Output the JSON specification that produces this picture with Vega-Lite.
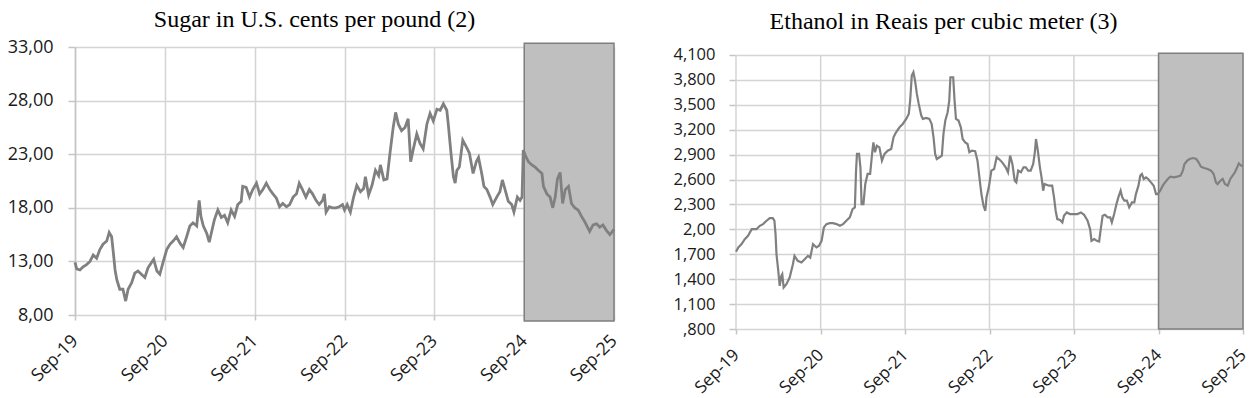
{
  "$schema": "https://vega.github.io/schema/vega-lite/v6.json",
  "background": "white",
  "padding": {"left": 5, "top": 8, "right": 5, "bottom": 5},
  "spacing": 51,
  "datasets": {
    "sugar": [
      {"date": "2019-09-01", "value": 12.9}, {"date": "2019-09-08", "value": 12.3}, {"date": "2019-09-21", "value": 12.2},
      {"date": "2019-10-04", "value": 12.5}, {"date": "2019-10-18", "value": 12.7}, {"date": "2019-11-01", "value": 13.0},
      {"date": "2019-11-14", "value": 13.6}, {"date": "2019-11-28", "value": 13.3}, {"date": "2019-12-11", "value": 14.1},
      {"date": "2019-12-24", "value": 14.6}, {"date": "2020-01-08", "value": 14.9}, {"date": "2020-01-18", "value": 15.7},
      {"date": "2020-01-28", "value": 15.3}, {"date": "2020-02-04", "value": 13.8}, {"date": "2020-02-11", "value": 12.2},
      {"date": "2020-02-18", "value": 11.3}, {"date": "2020-03-01", "value": 10.4}, {"date": "2020-03-14", "value": 10.4},
      {"date": "2020-03-25", "value": 9.3}, {"date": "2020-04-04", "value": 10.4}, {"date": "2020-04-18", "value": 11.0},
      {"date": "2020-05-01", "value": 11.9}, {"date": "2020-05-14", "value": 12.1}, {"date": "2020-05-28", "value": 11.8},
      {"date": "2020-06-11", "value": 11.5}, {"date": "2020-06-24", "value": 12.4}, {"date": "2020-07-08", "value": 12.9},
      {"date": "2020-07-17", "value": 13.2}, {"date": "2020-07-30", "value": 12.1}, {"date": "2020-08-11", "value": 11.8},
      {"date": "2020-08-24", "value": 12.9}, {"date": "2020-09-08", "value": 14.1}, {"date": "2020-09-21", "value": 14.6},
      {"date": "2020-10-04", "value": 14.9}, {"date": "2020-10-18", "value": 15.3}, {"date": "2020-11-01", "value": 14.7},
      {"date": "2020-11-14", "value": 14.3}, {"date": "2020-11-28", "value": 15.3}, {"date": "2020-12-11", "value": 16.3},
      {"date": "2020-12-24", "value": 16.6}, {"date": "2021-01-08", "value": 16.3}, {"date": "2021-01-18", "value": 18.7},
      {"date": "2021-01-25", "value": 17.2}, {"date": "2021-02-04", "value": 16.3}, {"date": "2021-02-18", "value": 15.6},
      {"date": "2021-02-28", "value": 14.8}, {"date": "2021-03-08", "value": 15.6}, {"date": "2021-03-21", "value": 16.9},
      {"date": "2021-04-04", "value": 17.8}, {"date": "2021-04-18", "value": 17.1}, {"date": "2021-05-01", "value": 17.3},
      {"date": "2021-05-14", "value": 16.6}, {"date": "2021-05-28", "value": 17.8}, {"date": "2021-06-11", "value": 17.2},
      {"date": "2021-06-24", "value": 18.3}, {"date": "2021-07-08", "value": 18.6}, {"date": "2021-07-14", "value": 20.0},
      {"date": "2021-07-28", "value": 19.9}, {"date": "2021-08-11", "value": 19.0}, {"date": "2021-08-24", "value": 19.7},
      {"date": "2021-09-08", "value": 20.3}, {"date": "2021-09-21", "value": 19.3}, {"date": "2021-10-04", "value": 19.7},
      {"date": "2021-10-18", "value": 20.3}, {"date": "2021-11-01", "value": 19.7}, {"date": "2021-11-14", "value": 19.3},
      {"date": "2021-11-28", "value": 18.9}, {"date": "2021-12-11", "value": 18.1}, {"date": "2021-12-24", "value": 18.4},
      {"date": "2022-01-08", "value": 18.1}, {"date": "2022-01-21", "value": 18.3}, {"date": "2022-02-04", "value": 19.0},
      {"date": "2022-02-18", "value": 19.3}, {"date": "2022-03-01", "value": 20.3}, {"date": "2022-03-14", "value": 19.7},
      {"date": "2022-03-28", "value": 19.0}, {"date": "2022-04-11", "value": 19.7}, {"date": "2022-04-24", "value": 19.3},
      {"date": "2022-05-08", "value": 18.7}, {"date": "2022-05-21", "value": 18.3}, {"date": "2022-06-04", "value": 18.7},
      {"date": "2022-06-11", "value": 19.3}, {"date": "2022-06-18", "value": 17.6}, {"date": "2022-07-01", "value": 18.1},
      {"date": "2022-07-14", "value": 18.0}, {"date": "2022-07-28", "value": 18.0}, {"date": "2022-08-11", "value": 18.1},
      {"date": "2022-08-24", "value": 18.3}, {"date": "2022-09-01", "value": 17.8}, {"date": "2022-09-12", "value": 18.3},
      {"date": "2022-09-25", "value": 17.6}, {"date": "2022-10-08", "value": 19.0}, {"date": "2022-10-21", "value": 20.1},
      {"date": "2022-11-05", "value": 19.5}, {"date": "2022-11-18", "value": 19.8}, {"date": "2022-11-25", "value": 20.9},
      {"date": "2022-12-08", "value": 19.2}, {"date": "2022-12-22", "value": 20.1}, {"date": "2023-01-05", "value": 21.5},
      {"date": "2023-01-18", "value": 21.0}, {"date": "2023-01-25", "value": 22.0}, {"date": "2023-02-08", "value": 20.6},
      {"date": "2023-02-21", "value": 20.7}, {"date": "2023-03-05", "value": 23.1}, {"date": "2023-03-18", "value": 25.5},
      {"date": "2023-03-28", "value": 26.9}, {"date": "2023-04-08", "value": 25.8}, {"date": "2023-04-21", "value": 25.2},
      {"date": "2023-05-05", "value": 25.5}, {"date": "2023-05-18", "value": 26.3}, {"date": "2023-05-28", "value": 22.3},
      {"date": "2023-06-08", "value": 23.5}, {"date": "2023-06-22", "value": 24.9}, {"date": "2023-07-05", "value": 24.0},
      {"date": "2023-07-18", "value": 23.5}, {"date": "2023-08-02", "value": 25.8}, {"date": "2023-08-15", "value": 26.8},
      {"date": "2023-08-28", "value": 26.1}, {"date": "2023-09-12", "value": 27.2}, {"date": "2023-09-25", "value": 27.1},
      {"date": "2023-10-08", "value": 27.7}, {"date": "2023-10-22", "value": 27.1}, {"date": "2023-10-28", "value": 25.8},
      {"date": "2023-11-08", "value": 23.1}, {"date": "2023-11-18", "value": 20.9}, {"date": "2023-11-25", "value": 20.3},
      {"date": "2023-12-02", "value": 21.5}, {"date": "2023-12-12", "value": 21.8}, {"date": "2023-12-26", "value": 24.3},
      {"date": "2024-01-09", "value": 23.7}, {"date": "2024-01-22", "value": 23.1}, {"date": "2024-02-06", "value": 21.2},
      {"date": "2024-02-19", "value": 22.3}, {"date": "2024-02-28", "value": 22.7}, {"date": "2024-03-12", "value": 21.2},
      {"date": "2024-03-21", "value": 20.0}, {"date": "2024-04-02", "value": 19.7}, {"date": "2024-04-15", "value": 19.0},
      {"date": "2024-04-26", "value": 18.3}, {"date": "2024-05-12", "value": 19.0}, {"date": "2024-05-25", "value": 19.5},
      {"date": "2024-06-04", "value": 20.6}, {"date": "2024-06-15", "value": 19.7}, {"date": "2024-06-28", "value": 18.6},
      {"date": "2024-07-12", "value": 18.3}, {"date": "2024-07-21", "value": 17.6}, {"date": "2024-08-04", "value": 19.0},
      {"date": "2024-08-15", "value": 18.7}, {"date": "2024-08-23", "value": 19.0}, {"date": "2024-08-28", "value": 23.4},
      {"date": "2024-09-09", "value": 22.7}, {"date": "2024-09-18", "value": 22.3}, {"date": "2024-10-02", "value": 22.0},
      {"date": "2024-10-15", "value": 21.8}, {"date": "2024-10-28", "value": 21.5}, {"date": "2024-11-12", "value": 21.2},
      {"date": "2024-11-18", "value": 20.0}, {"date": "2024-12-02", "value": 19.3}, {"date": "2024-12-15", "value": 19.0},
      {"date": "2024-12-26", "value": 18.0}, {"date": "2025-01-05", "value": 19.0}, {"date": "2025-01-14", "value": 20.7},
      {"date": "2025-01-25", "value": 21.3}, {"date": "2025-02-04", "value": 18.4}, {"date": "2025-02-15", "value": 19.7},
      {"date": "2025-02-28", "value": 20.0}, {"date": "2025-03-12", "value": 18.4}, {"date": "2025-03-25", "value": 18.0},
      {"date": "2025-04-08", "value": 17.8}, {"date": "2025-04-22", "value": 17.2}, {"date": "2025-05-05", "value": 16.7},
      {"date": "2025-05-25", "value": 15.8}, {"date": "2025-06-08", "value": 16.4}, {"date": "2025-06-22", "value": 16.5},
      {"date": "2025-07-05", "value": 16.2}, {"date": "2025-07-18", "value": 16.4}, {"date": "2025-08-01", "value": 15.9},
      {"date": "2025-08-15", "value": 15.5}, {"date": "2025-08-26", "value": 15.8}, {"date": "2025-09-01", "value": 16.0}
    ],
    "ethanol": [
      {"date": "2019-09-01", "value": 1730}, {"date": "2019-09-11", "value": 1782}, {"date": "2019-09-25", "value": 1822},
      {"date": "2019-10-09", "value": 1882}, {"date": "2019-10-23", "value": 1923}, {"date": "2019-11-08", "value": 2003},
      {"date": "2019-11-29", "value": 2003}, {"date": "2019-12-13", "value": 2043}, {"date": "2019-12-27", "value": 2063},
      {"date": "2020-01-11", "value": 2104}, {"date": "2020-01-25", "value": 2136}, {"date": "2020-02-07", "value": 2136},
      {"date": "2020-02-14", "value": 2104}, {"date": "2020-02-19", "value": 1943}, {"date": "2020-02-23", "value": 1702},
      {"date": "2020-03-01", "value": 1521}, {"date": "2020-03-08", "value": 1320}, {"date": "2020-03-15", "value": 1440},
      {"date": "2020-03-19", "value": 1460}, {"date": "2020-03-25", "value": 1300}, {"date": "2020-04-06", "value": 1340},
      {"date": "2020-04-20", "value": 1420}, {"date": "2020-05-04", "value": 1581}, {"date": "2020-05-11", "value": 1681},
      {"date": "2020-05-25", "value": 1621}, {"date": "2020-06-10", "value": 1601}, {"date": "2020-06-24", "value": 1641},
      {"date": "2020-07-08", "value": 1681}, {"date": "2020-07-18", "value": 1661}, {"date": "2020-07-30", "value": 1822},
      {"date": "2020-08-14", "value": 1782}, {"date": "2020-08-25", "value": 1802}, {"date": "2020-09-05", "value": 1862},
      {"date": "2020-09-15", "value": 2023}, {"date": "2020-09-26", "value": 2063}, {"date": "2020-10-10", "value": 2075},
      {"date": "2020-10-24", "value": 2075}, {"date": "2020-11-09", "value": 2063}, {"date": "2020-11-23", "value": 2043},
      {"date": "2020-12-07", "value": 2063}, {"date": "2020-12-21", "value": 2104}, {"date": "2021-01-05", "value": 2144},
      {"date": "2021-01-17", "value": 2244}, {"date": "2021-01-27", "value": 2264}, {"date": "2021-02-01", "value": 2707},
      {"date": "2021-02-05", "value": 2908}, {"date": "2021-02-14", "value": 2908}, {"date": "2021-02-20", "value": 2747},
      {"date": "2021-02-25", "value": 2304}, {"date": "2021-03-05", "value": 2304}, {"date": "2021-03-13", "value": 2546},
      {"date": "2021-03-23", "value": 2667}, {"date": "2021-04-03", "value": 2667}, {"date": "2021-04-12", "value": 2928},
      {"date": "2021-04-17", "value": 3048}, {"date": "2021-04-24", "value": 2928}, {"date": "2021-05-02", "value": 3008},
      {"date": "2021-05-13", "value": 2988}, {"date": "2021-05-24", "value": 2827}, {"date": "2021-06-04", "value": 2908},
      {"date": "2021-06-18", "value": 2948}, {"date": "2021-07-03", "value": 2968}, {"date": "2021-07-13", "value": 3109},
      {"date": "2021-07-24", "value": 3169}, {"date": "2021-08-08", "value": 3229}, {"date": "2021-08-22", "value": 3269},
      {"date": "2021-09-06", "value": 3330}, {"date": "2021-09-17", "value": 3390}, {"date": "2021-09-23", "value": 3551},
      {"date": "2021-09-30", "value": 3852}, {"date": "2021-10-07", "value": 3892}, {"date": "2021-10-14", "value": 3792},
      {"date": "2021-10-22", "value": 3631}, {"date": "2021-10-30", "value": 3511}, {"date": "2021-11-10", "value": 3370},
      {"date": "2021-11-17", "value": 3330}, {"date": "2021-12-01", "value": 3342}, {"date": "2021-12-15", "value": 3330},
      {"date": "2021-12-25", "value": 3269}, {"date": "2022-01-02", "value": 3109}, {"date": "2022-01-09", "value": 2908},
      {"date": "2022-01-16", "value": 2847}, {"date": "2022-01-28", "value": 2868}, {"date": "2022-02-07", "value": 2888},
      {"date": "2022-02-14", "value": 3149}, {"date": "2022-02-22", "value": 3310}, {"date": "2022-03-04", "value": 3410},
      {"date": "2022-03-11", "value": 3551}, {"date": "2022-03-16", "value": 3832}, {"date": "2022-03-28", "value": 3832},
      {"date": "2022-04-03", "value": 3551}, {"date": "2022-04-09", "value": 3330}, {"date": "2022-04-20", "value": 3310},
      {"date": "2022-04-30", "value": 3229}, {"date": "2022-05-08", "value": 3088}, {"date": "2022-05-19", "value": 3048},
      {"date": "2022-05-29", "value": 3028}, {"date": "2022-06-06", "value": 2928}, {"date": "2022-06-17", "value": 2948},
      {"date": "2022-07-01", "value": 2940}, {"date": "2022-07-11", "value": 2827}, {"date": "2022-07-21", "value": 2586},
      {"date": "2022-07-28", "value": 2425}, {"date": "2022-08-06", "value": 2284}, {"date": "2022-08-14", "value": 2224},
      {"date": "2022-08-19", "value": 2385}, {"date": "2022-08-29", "value": 2506}, {"date": "2022-09-09", "value": 2707},
      {"date": "2022-09-21", "value": 2727}, {"date": "2022-10-02", "value": 2868}, {"date": "2022-10-12", "value": 2847},
      {"date": "2022-10-26", "value": 2807}, {"date": "2022-11-10", "value": 2747}, {"date": "2022-11-20", "value": 2687},
      {"date": "2022-11-29", "value": 2888}, {"date": "2022-12-09", "value": 2787}, {"date": "2022-12-19", "value": 2586},
      {"date": "2022-12-26", "value": 2566}, {"date": "2023-01-03", "value": 2707}, {"date": "2023-01-15", "value": 2687},
      {"date": "2023-01-26", "value": 2747}, {"date": "2023-02-05", "value": 2747}, {"date": "2023-02-15", "value": 2707},
      {"date": "2023-02-26", "value": 2707}, {"date": "2023-03-09", "value": 2787}, {"date": "2023-03-16", "value": 2928},
      {"date": "2023-03-21", "value": 3088}, {"date": "2023-03-29", "value": 2948}, {"date": "2023-04-07", "value": 2747},
      {"date": "2023-04-14", "value": 2627}, {"date": "2023-04-21", "value": 2466}, {"date": "2023-04-27", "value": 2546},
      {"date": "2023-05-16", "value": 2526}, {"date": "2023-05-30", "value": 2526}, {"date": "2023-06-07", "value": 2385},
      {"date": "2023-06-14", "value": 2224}, {"date": "2023-06-21", "value": 2124}, {"date": "2023-07-03", "value": 2112},
      {"date": "2023-07-13", "value": 2083}, {"date": "2023-07-20", "value": 2164}, {"date": "2023-08-01", "value": 2204},
      {"date": "2023-08-15", "value": 2184}, {"date": "2023-09-02", "value": 2184}, {"date": "2023-09-16", "value": 2184},
      {"date": "2023-10-01", "value": 2204}, {"date": "2023-10-15", "value": 2176}, {"date": "2023-10-30", "value": 2104},
      {"date": "2023-11-10", "value": 2003}, {"date": "2023-11-16", "value": 1862}, {"date": "2023-11-28", "value": 1882},
      {"date": "2023-12-09", "value": 1862}, {"date": "2023-12-19", "value": 1854}, {"date": "2023-12-26", "value": 2003},
      {"date": "2024-01-03", "value": 2164}, {"date": "2024-01-13", "value": 2176}, {"date": "2024-01-25", "value": 2144},
      {"date": "2024-02-05", "value": 2144}, {"date": "2024-02-12", "value": 2083}, {"date": "2024-02-22", "value": 2184},
      {"date": "2024-03-03", "value": 2304}, {"date": "2024-03-11", "value": 2385}, {"date": "2024-03-21", "value": 2466},
      {"date": "2024-03-28", "value": 2385}, {"date": "2024-04-06", "value": 2345}, {"date": "2024-04-17", "value": 2345},
      {"date": "2024-04-27", "value": 2264}, {"date": "2024-05-09", "value": 2324}, {"date": "2024-05-19", "value": 2324},
      {"date": "2024-05-26", "value": 2425}, {"date": "2024-06-06", "value": 2526}, {"date": "2024-06-14", "value": 2647},
      {"date": "2024-06-21", "value": 2667}, {"date": "2024-06-29", "value": 2607}, {"date": "2024-07-09", "value": 2627},
      {"date": "2024-07-18", "value": 2607}, {"date": "2024-07-30", "value": 2566}, {"date": "2024-08-11", "value": 2526},
      {"date": "2024-08-21", "value": 2425}, {"date": "2024-08-28", "value": 2425}, {"date": "2024-09-08", "value": 2466},
      {"date": "2024-09-19", "value": 2526}, {"date": "2024-09-29", "value": 2566}, {"date": "2024-10-11", "value": 2607},
      {"date": "2024-10-22", "value": 2635}, {"date": "2024-11-06", "value": 2627}, {"date": "2024-11-20", "value": 2635},
      {"date": "2024-12-05", "value": 2647}, {"date": "2024-12-15", "value": 2707}, {"date": "2024-12-22", "value": 2787},
      {"date": "2025-01-03", "value": 2827}, {"date": "2025-01-13", "value": 2847}, {"date": "2025-01-28", "value": 2859},
      {"date": "2025-02-11", "value": 2847}, {"date": "2025-02-21", "value": 2807}, {"date": "2025-03-03", "value": 2755},
      {"date": "2025-03-17", "value": 2739}, {"date": "2025-04-01", "value": 2727}, {"date": "2025-04-16", "value": 2707},
      {"date": "2025-04-27", "value": 2667}, {"date": "2025-05-07", "value": 2566}, {"date": "2025-05-14", "value": 2546},
      {"date": "2025-05-26", "value": 2586}, {"date": "2025-06-05", "value": 2607}, {"date": "2025-06-15", "value": 2546},
      {"date": "2025-06-27", "value": 2526}, {"date": "2025-07-08", "value": 2607}, {"date": "2025-07-18", "value": 2647},
      {"date": "2025-07-28", "value": 2687}, {"date": "2025-08-07", "value": 2747}, {"date": "2025-08-14", "value": 2795},
      {"date": "2025-08-24", "value": 2767}, {"date": "2025-09-01", "value": 2767}
    ],
    "period": [{"start": "2024-09-01", "end": "2025-09-01"}],
    "years": [
      {"date": "2019-09-01"}, {"date": "2020-09-01"}, {"date": "2021-09-01"}, {"date": "2022-09-01"},
      {"date": "2023-09-01"}, {"date": "2024-09-01"}, {"date": "2025-09-01"}
    ]
  },
  "config": {
    "view": {"stroke": null},
    "axis": {
      "labelFont": "Open Sans", "labelFontSize": 18, "labelColor": "#1a1a1a",
      "gridColor": "#d4d4d4", "gridWidth": 1.5, "domainColor": "#c4c4c4", "domainWidth": 1.5,
      "tickColor": "#c4c4c4", "tickWidth": 1.5, "title": null
    },
    "title": {"font": "Liberation Serif", "fontSize": 24, "fontWeight": "normal", "color": "#000000", "anchor": "middle"}
  },
  "hconcat": [
    {
      "width": 539, "height": 268,
      "title": {"text": "Sugar in U.S. cents per pound (2)", "offset": 6, "dx": -30},
      "layer": [
        {
          "data": {"name": "period"},
          "mark": {"type": "rect", "fill": "#bfbfbf", "stroke": "#7f7f7f", "strokeWidth": 1.5},
          "encoding": {
            "x": {"field": "start", "type": "temporal"},
            "x2": {"field": "end"},
            "y": {"datum": 33.35},
            "y2": {"datum": 7.45}
          }
        },
        {
          "data": {"name": "sugar"},
          "mark": {"type": "line", "color": "#808080", "strokeWidth": 2.8},
          "encoding": {
            "x": {
              "field": "date", "type": "temporal",
              "scale": {"type": "utc", "domain": [{"year": 2019, "month": "sep", "date": 1, "utc": true}, {"year": 2025, "month": "sep", "date": 1, "utc": true}]},
              "axis": {
                "values": [
                  {"year": 2019, "month": "sep", "date": 1, "utc": true}, {"year": 2020, "month": "sep", "date": 1, "utc": true},
                  {"year": 2021, "month": "sep", "date": 1, "utc": true}, {"year": 2022, "month": "sep", "date": 1, "utc": true},
                  {"year": 2023, "month": "sep", "date": 1, "utc": true}, {"year": 2024, "month": "sep", "date": 1, "utc": true},
                  {"year": 2025, "month": "sep", "date": 1, "utc": true}
                ],
                "tickCount": 20,
                "format": "%b-%y", "labelAngle": -45, "labelAlign": "right", "labelBaseline": "middle",
                "tickSize": 5, "labelPadding": 18, "domain": false, "grid": true, "labelOverlap": false
              }
            },
            "y": {
              "field": "value", "type": "quantitative",
              "scale": {"domain": [8, 33], "nice": false, "zero": false},
              "axis": {
                "values": [8, 13, 18, 23, 28, 33],
                "tickCount": 20,
                "labelExpr": "replace(format(datum.value, '.2f'), '.', ',')",
                "tickSize": 7, "labelPadding": 15, "grid": true, "domain": true, "labelOverlap": false,
                "minExtent": 70, "maxExtent": 70
              }
            }
          }
        }
      ]
    },
    {
      "width": 507, "height": 282,
      "title": {"text": "Ethanol in Reais per cubic meter (3)", "offset": 13, "dx": -46},
      "layer": [
        {
          "data": {"name": "years"},
          "mark": {"type": "rule", "color": "#d4d4d4", "strokeWidth": 1.5},
          "encoding": {
            "x": {"field": "date", "type": "temporal"},
            "y": {"datum": 800},
            "y2": {"datum": 4100}
          }
        },
        {
          "data": {"name": "period"},
          "mark": {"type": "rect", "fill": "#bfbfbf", "stroke": "#7f7f7f", "strokeWidth": 1.5},
          "encoding": {
            "x": {"field": "start", "type": "temporal"},
            "x2": {"field": "end"},
            "y": {"datum": 4120},
            "y2": {"datum": 800}
          }
        },
        {
          "data": {"name": "ethanol"},
          "mark": {"type": "line", "color": "#808080", "strokeWidth": 2.2},
          "encoding": {
            "x": {
              "field": "date", "type": "temporal",
              "scale": {"type": "utc", "domain": [{"year": 2019, "month": "sep", "date": 1, "utc": true}, {"year": 2025, "month": "sep", "date": 1, "utc": true}]},
              "axis": {
                "values": [
                  {"year": 2019, "month": "sep", "date": 1, "utc": true}, {"year": 2020, "month": "sep", "date": 1, "utc": true},
                  {"year": 2021, "month": "sep", "date": 1, "utc": true}, {"year": 2022, "month": "sep", "date": 1, "utc": true},
                  {"year": 2023, "month": "sep", "date": 1, "utc": true}, {"year": 2024, "month": "sep", "date": 1, "utc": true},
                  {"year": 2025, "month": "sep", "date": 1, "utc": true}
                ],
                "tickCount": 20,
                "format": "%b-%y", "labelAngle": -45, "labelAlign": "right", "labelBaseline": "middle",
                "labelFontSize": 17, "tickSize": 5, "labelPadding": 18, "domain": false, "grid": false, "labelOverlap": false
              }
            },
            "y": {
              "field": "value", "type": "quantitative",
              "scale": {"domain": [800, 4196], "nice": false, "zero": false},
              "axis": {
                "values": [800, 1100, 1400, 1700, 2000, 2300, 2600, 2900, 3200, 3500, 3800, 4100],
                "tickCount": 20,
                "labelExpr": "datum.value == 2000 ? '2,00' : datum.value == 800 ? ',800' : format(datum.value, ',')",
                "labelFontSize": 16.5, "tickSize": 7, "labelPadding": 14, "grid": true, "domain": false,
                "labelOverlap": false,
                "minExtent": 62, "maxExtent": 62
              }
            }
          }
        }
      ]
    }
  ]
}
